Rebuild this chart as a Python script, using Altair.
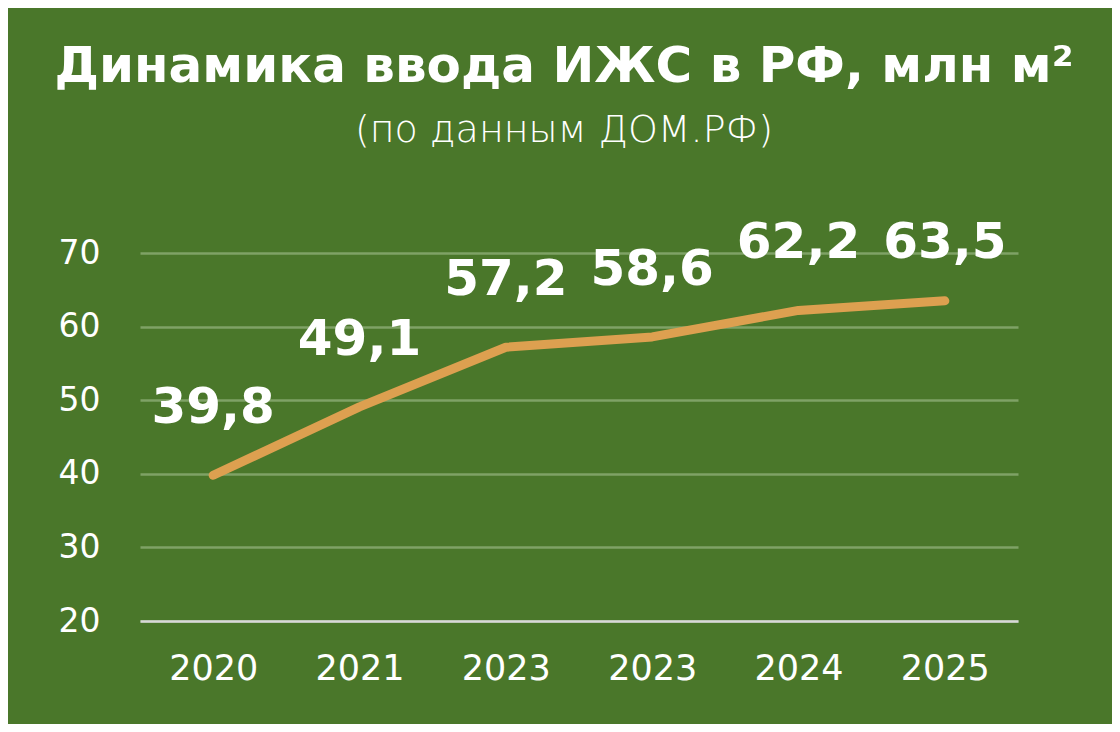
import altair as alt
import pandas as pd

years = ["2020", "2021", "2023", "2023", "2024", "2025"]
values = [39.8, 49.1, 57.2, 58.6, 62.2, 63.5]
labels = ["39,8", "49,1", "57,2", "58,6", "62,2", "63,5"]

df = pd.DataFrame({
    "idx": list(range(len(years))),
    "year": years,
    "value": values,
    "label": labels,
})

BG = "#4A772A"
FONT = "DejaVu Sans"
label_expr = "[" + ",".join(f"'{y}'" for y in years) + "][datum.value]"

base = alt.Chart(df)

x_enc = alt.X(
    "idx:O",
    scale=alt.Scale(type="point", padding=0.5),
    axis=alt.Axis(
        title=None, labelExpr=label_expr, labelAngle=0, ticks=False,
        domain=True, domainColor="#D8D8D8", domainWidth=2.5,
        labelColor="white", labelFont=FONT, labelFontSize=35,
        labelFontWeight="normal", labelPadding=30, grid=False,
    ),
)
y_scale = alt.Scale(domain=[20, 70], nice=False, zero=False)
y_enc = alt.Y(
    "value:Q",
    scale=y_scale,
    axis=alt.Axis(
        title=None, values=[20, 30, 40, 50, 60, 70], ticks=False, domain=False,
        labelColor="white", labelFont=FONT, labelFontSize=33,
        labelFontWeight="normal",
        labelPadding=40, gridColor="#7FA266", gridWidth=2.5,
    ),
)

line = base.mark_line(color="#DDA050", strokeWidth=9, strokeCap="round",
                      strokeJoin="round").encode(x=x_enc, y=y_enc)

text = base.transform_calculate(
    ly="min(datum.value, 62.2)"
).mark_text(
    color="white", font=FONT, fontWeight="bold", fontSize=50,
    baseline="middle", align="center", dy=-67,
).encode(x=x_enc, y=alt.Y("ly:Q", scale=y_scale), text="label:N")

chart = (line + text).properties(
    width=878,
    height=368,
    background=BG,
    padding={"left": 132, "top": 245, "right": 94, "bottom": 103},
    autosize=alt.AutoSizeParams(type="none"),
    title=alt.Title(
        "Динамика ввода ИЖС в РФ, млн м²",
        subtitle="(по данным ДОМ.РФ)",
        anchor="middle", dx=-15, offset=68,
        color="white", font=FONT, fontSize=50, fontWeight="bold",
        subtitleColor="white", subtitleFont=FONT, subtitleFontSize=38,
        subtitleFontWeight=300, subtitlePadding=20,
    ),
).configure_view(stroke=None)

chart.save("out.html", embed_options={"renderer": "svg", "actions": False})
